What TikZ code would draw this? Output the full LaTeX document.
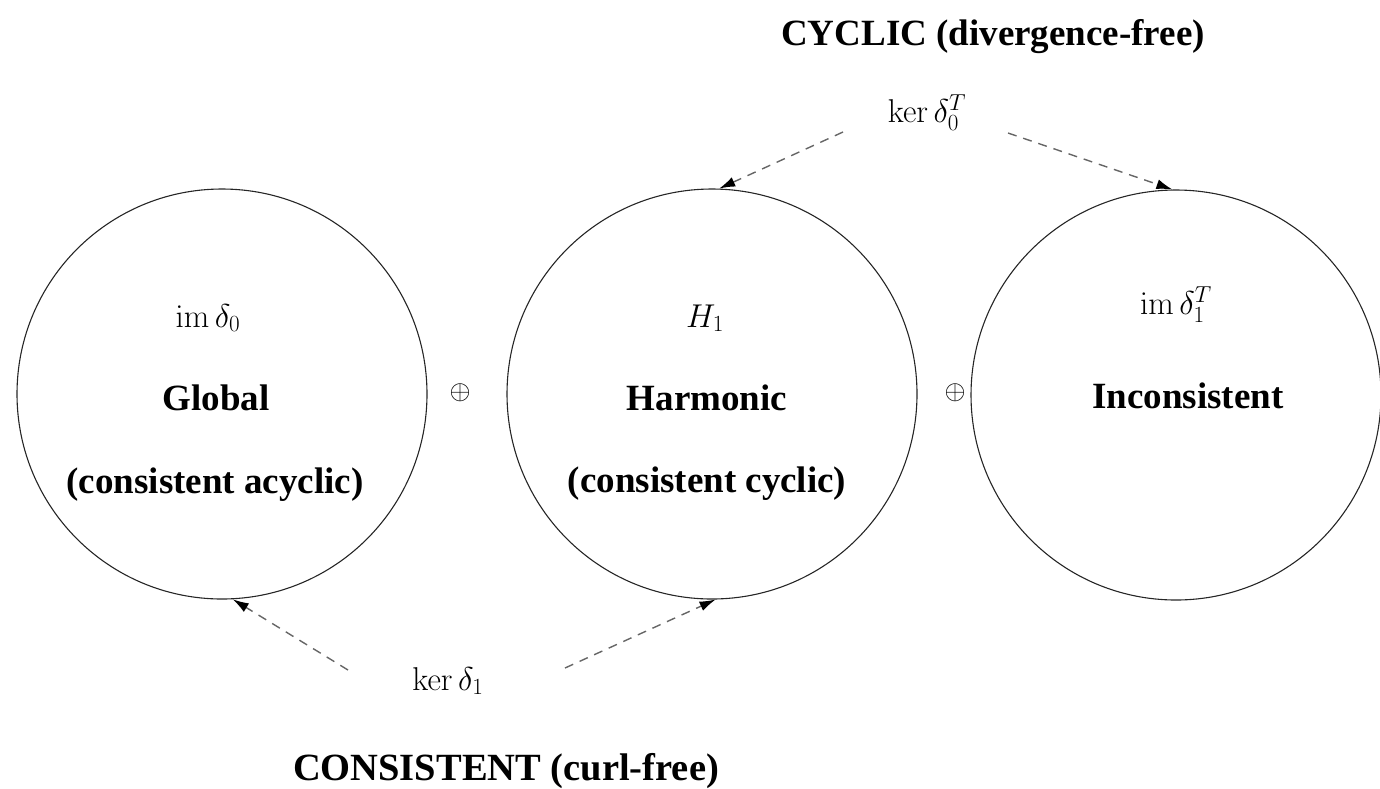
\RequirePackage{fix-cm}
\documentclass[tikz,border=0pt]{standalone}
\usepackage{amsmath}
\usepackage[no-math]{fontspec}
\setmainfont{Liberation Serif}
\usetikzlibrary{arrows.meta}
\begin{document}
\begin{tikzpicture}[x=1pt,y=-1pt,
  space/.style={circle,draw=black!85,line width=1.1pt,minimum size=410pt,inner sep=0pt},
  title/.style={anchor=base,inner sep=0pt,font=\fontsize{37}{44}\selectfont\bfseries},
  sym/.style={anchor=base,inner sep=0pt,font=\fontsize{33}{38}\selectfont},
  link/.style={draw=black!60,line width=1.4pt,dash pattern=on 9pt off 7pt,
    -{Latex[length=16pt,width=10pt,color=black]}}]
\useasboundingbox (0,0) rectangle (1380,788);

% the three subspaces
\node[space] (glob) at (222,394) {};
\node[space] (harm) at (712,394) {};
\node[space] (inc)  at (1176,395) {};

% labels inside the circles
\node[sym] (l0) at (208,327) {$\operatorname{im}\delta_0$};
\node[title] (g1) at (216,410) {Global};
\node[title] (g2) at (215,493) {(consistent acyclic)};

\node[sym] (l1) at (705,327) {$H_1$};
\node[title] (h1) at (707,410) {Harmonic};
\node[title] (h2) at (707,492) {(consistent cyclic)};

\node[sym] (l2) at (1176,314) {$\operatorname{im}\delta_1^T$};
\node[title] (i1) at (1188,408) {Inconsistent};

% direct sums
\node[sym,font=\fontsize{27}{32}\selectfont] (p1) at (460,399) {$\oplus$};
\node[sym,font=\fontsize{27}{32}\selectfont] (p2) at (955,399) {$\oplus$};

% headings
\node[title] (cyc) at (993,45) {CYCLIC (divergence-free)};
\node[title,font=\fontsize{38.5}{46}\selectfont\bfseries] (con) at (506,780) {CONSISTENT (curl-free)};

% kernels and their dashed pointers
\node[sym] (k0) at (927,122) {$\ker\delta_0^T$};
\node[sym] (k1) at (448,690) {$\ker\delta_1$};

\coordinate (k0l) at (843,132);
\coordinate (k0r) at (1008,133);
\coordinate (k1l) at (348,670);
\coordinate (k1r) at (565,668);

\draw[link] (k0l) -- (harm.88);
\draw[link] (k0r) -- (inc.91);
\draw[link] (k1l) -- (glob.273);
\draw[link] (k1r) -- (harm.271);
\end{tikzpicture}
\end{document}
